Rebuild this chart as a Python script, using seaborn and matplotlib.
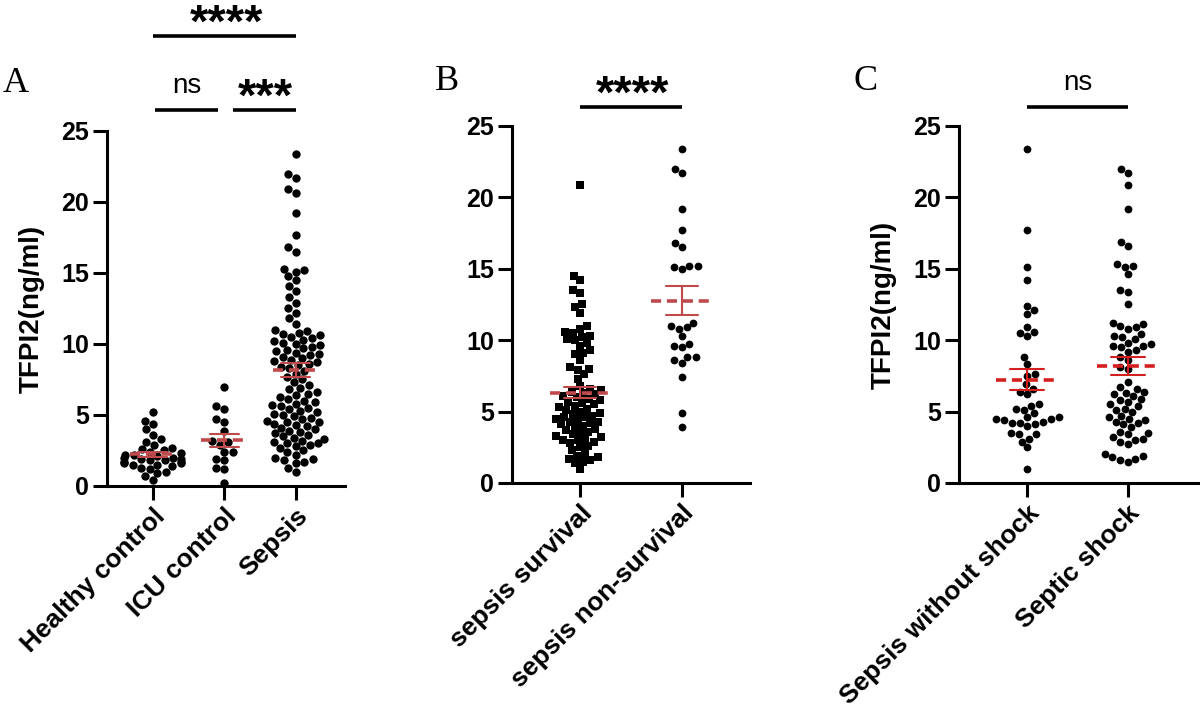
import numpy as np
import pandas as pd
import matplotlib
matplotlib.use("Agg")
import matplotlib.pyplot as plt
import seaborn as sns

# ---------------- data ----------------
cats_a = ["Healthy control", "ICU control", "Sepsis"]
healthy = [5.2, 4.6, 4.4, 4.0, 3.6, 3.3, 3.1, 2.9, 2.7, 2.6, 2.5, 2.4, 2.3, 2.2, 2.2,
           2.1, 2.0, 2.0, 1.9, 1.9, 1.8, 1.8, 1.7, 1.7, 1.6, 1.6, 1.5, 1.5, 1.4, 1.3,
           1.2, 1.0, 0.9, 0.7, 0.4]
icu = [7.0, 5.6, 5.4, 4.7, 4.5, 3.9, 3.2, 3.1, 2.9, 2.4, 2.4, 1.9, 1.8, 1.3, 1.2, 0.2]
sepsis = [23.4, 22.0, 21.7, 20.9, 20.6, 19.2, 17.7, 16.8, 16.5, 15.3, 15.2, 15.1, 14.8,
          14.5, 14.1, 13.7, 13.3, 12.9, 12.5, 12.2, 11.8, 11.4,
          11.0, 10.9, 10.8, 10.7, 10.6, 10.5, 10.4, 10.3, 10.2, 10.1, 10.0, 9.9, 9.8,
          9.7, 9.6, 9.5, 9.4, 9.3, 9.2, 9.1, 9.0, 8.9, 8.8, 8.7, 8.6, 8.5, 8.4, 8.3,
          8.1, 7.9,
          7.7, 7.5, 7.3, 7.1, 6.9, 6.8, 6.6, 6.5, 6.4, 6.3, 6.1, 6.0,
          5.9, 5.8, 5.7, 5.6, 5.5, 5.4, 5.3, 5.2, 5.1, 5.0, 4.9, 4.8, 4.7, 4.6, 4.5,
          4.5, 4.4, 4.3, 4.2, 4.1, 4.0, 3.9, 3.8, 3.7, 3.6, 3.5, 3.4, 3.3, 3.2, 3.1,
          3.0, 3.0, 2.9, 2.8, 2.7,
          2.5, 2.4, 2.2, 2.0, 1.9, 1.8, 1.7, 1.6, 1.3, 1.0]

cats_b = ["sepsis survival", "sepsis non-survival"]
survival = [20.9, 14.5, 14.2, 13.5, 13.3, 12.5, 12.3, 11.9, 11.0, 10.8, 10.6, 10.5,
            10.3, 10.2, 10.1, 10.0, 9.8, 9.6, 9.3, 9.1, 9.0, 8.6, 8.1, 8.0, 7.9, 7.6,
            7.3, 6.8, 6.6, 6.5, 6.4, 6.3, 6.2, 6.1, 6.0, 5.9, 5.8, 5.7, 5.6, 5.5, 5.4,
            5.3, 5.2, 5.1, 5.0, 4.9, 4.8, 4.7, 4.6, 4.6, 4.5, 4.4, 4.3, 4.3, 4.2, 4.1,
            4.0, 3.9, 3.8, 3.7, 3.6, 3.5, 3.4, 3.3, 3.2, 3.1, 3.0, 3.0, 2.9, 2.8, 2.6,
            2.5, 2.3, 2.0, 1.9, 1.8, 1.7, 1.6, 1.5, 1.4, 1.0]
non_survival = [23.4, 22.0, 21.7, 19.2, 17.7, 16.8, 16.5, 15.2, 15.2, 15.1, 15.0, 11.2,
                11.0, 10.9, 10.8, 10.3, 9.7, 9.6, 9.5, 8.8, 8.8, 8.6, 8.4, 7.4, 4.9, 3.9]

cats_c = ["Sepsis without shock", "Septic shock"]
no_shock = [23.4, 17.7, 15.1, 14.2, 12.4, 12.1, 11.8, 10.9, 10.6, 10.5, 10.3, 8.8, 8.3,
            7.6, 7.5, 6.9, 6.6, 6.4, 6.2, 5.5, 5.4, 5.2, 5.1, 4.9, 4.6, 4.6, 4.5, 4.5,
            4.4, 4.3, 4.2, 4.2, 4.1, 4.0, 3.5, 3.4, 3.4, 3.1, 2.9, 2.5, 1.0]
shock = [22.0, 21.7, 20.9, 19.2, 16.9, 16.6, 15.3, 15.2, 15.1, 14.6, 13.5, 13.4, 12.5,
         11.2, 11.1, 11.0, 10.9, 10.8, 10.4, 10.3, 10.2, 10.1, 9.8, 9.7, 9.6, 9.6, 9.5,
         9.3, 9.2, 8.8, 8.6, 8.1, 8.0, 7.1, 6.7, 6.6, 6.4, 6.3, 6.2, 6.1, 5.9, 5.8, 5.7,
         5.5, 5.4, 5.2, 5.1, 5.0, 4.7, 4.6, 4.5, 4.4, 4.3, 4.2, 4.1, 3.9, 3.6, 3.5, 3.4,
         3.2, 3.1, 3.0, 2.9, 2.7, 2.0, 1.9, 1.8, 1.7, 1.6, 1.5]

yticks = [0, 5, 10, 15, 20, 25]
ylabel = "TFPI2(ng/ml)"

# ---------------- style ----------------
sns.set_theme(style="ticks")
plt.rcParams["font.family"] = ["Liberation Sans", "DejaVu Sans"]
plt.rcParams["font.weight"] = "bold"
plt.rcParams["text.color"] = "black"
plt.rcParams["axes.labelcolor"] = "black"
plt.rcParams["xtick.color"] = "black"
plt.rcParams["ytick.color"] = "black"
plt.rcParams["axes.edgecolor"] = "black"

LW = 2.2
fig = plt.figure(figsize=(12, 7.15), dpi=100)

def make_df(cats, groups):
    rows = []
    for c, g in zip(cats, groups):
        for v in g:
            rows.append((c, v))
    return pd.DataFrame(rows, columns=["group", "value"])

def style_axis(ax, cats, xlim, show_ylabel):
    ax.set_xlim(*xlim)
    ax.set_ylim(0, 25)
    ax.set_yticks(yticks)
    ax.set_yticklabels([str(t) for t in yticks], fontsize=18, fontweight="bold",
                       color="black")
    ax.set_xticks(range(len(cats)))
    ax.set_xticklabels(cats, fontsize=19, fontweight="bold", rotation=45,
                       ha="right", rotation_mode="anchor", color="black")
    for s in ["top", "right"]:
        ax.spines[s].set_visible(False)
    for s in ["left", "bottom"]:
        ax.spines[s].set_linewidth(LW)
        ax.spines[s].set_color("black")
    ax.tick_params(axis="both", length=10, width=LW, color="black", pad=3)
    ax.set_xlabel("")
    if show_ylabel:
        ax.set_ylabel(ylabel, fontsize=20, fontweight="bold", labelpad=12,
                      color="black")
    else:
        ax.set_ylabel("")

def mean_sem(ax, groups, color, half, cap):
    for i, g in enumerate(groups):
        arr = np.asarray(g, dtype=float)
        m = arr.mean()
        se = arr.std(ddof=1) / np.sqrt(len(arr))
        ax.plot([i - half, i + half], [m, m], color=color, lw=LW + 0.4,
                linestyle=(0, (2.8, 1.6)), zorder=5, solid_capstyle="butt")
        ax.plot([i, i], [m - se, m + se], color=color, lw=1.5, zorder=5)
        ax.plot([i - cap, i + cap], [m + se, m + se], color=color, lw=1.5, zorder=5)
        ax.plot([i - cap, i + cap], [m - se, m - se], color=color, lw=1.5, zorder=5)

def sig(ax, x0, x1, y, text, ty, tx=None, stars=True):
    ax.plot([x0, x1], [y, y], color="black", lw=LW + 0.4, clip_on=False,
            solid_capstyle="butt")
    if tx is None:
        tx = (x0 + x1) / 2
    if stars:
        ax.text(tx, ty, text, ha="center", va="center", fontsize=34,
                fontweight="bold", clip_on=False, color="black")
    else:
        ax.text(tx, ty, text, ha="center", va="center", fontsize=20,
                fontweight="normal", clip_on=False, color="black")

red_ab = "#bf4a4c"
red_c = "#d41f1f"

# ---------------- panel A ----------------
axA = fig.add_axes([0.0892, 0.3203, 0.1983, 0.4965])
dfA = make_df(cats_a, [healthy, icu, sepsis])
sns.swarmplot(data=dfA, x="group", y="value", order=cats_a, color="black",
              size=6.0, ax=axA, zorder=3)
style_axis(axA, cats_a, (-0.64, 2.69), True)
mean_sem(axA, [healthy, icu, sepsis], red_ab, 0.32, 0.2)
sig(axA, 0.03, 0.91, 26.5, "ns", 28.2, stars=False)
sig(axA, 1.12, 2.0, 26.5, "***", 27.3, tx=1.58)
sig(axA, 0.01, 2.0, 31.7, "****", 32.5, tx=1.03)

# ---------------- panel B ----------------
axB = fig.add_axes([0.4267, 0.3245, 0.1983, 0.4993])
dfB1 = make_df([cats_b[0]], [survival])
dfB2 = make_df([cats_b[1]], [non_survival])
sns.swarmplot(data=dfB1, x="group", y="value", order=cats_b, color="black",
              size=5.4, marker="s", ax=axB, zorder=3)
sns.swarmplot(data=dfB2, x="group", y="value", order=cats_b, color="black",
              size=5.6, marker="o", ax=axB, zorder=3)
style_axis(axB, cats_b, (-0.67, 1.67), False)
mean_sem(axB, [survival, non_survival], red_ab, 0.3, 0.16)
sig(axB, 0.0, 1.0, 26.3, "****", 27.1, tx=0.52)

# ---------------- panel C ----------------
axC = fig.add_axes([0.7992, 0.3245, 0.2000, 0.4993])
dfC = make_df(cats_c, [no_shock, shock])
sns.swarmplot(data=dfC, x="group", y="value", order=cats_c, color="black",
              size=5.6, ax=axC, zorder=3)
style_axis(axC, cats_c, (-0.68, 1.71), True)
mean_sem(axC, [no_shock, shock], red_c, 0.31, 0.17)
sig(axC, 0.0, 1.0, 26.3, "ns", 28.0, stars=False)

# ---------------- panel letters ----------------
for x, y, t in [(0.0025, 0.8713, "A"), (0.3625, 0.8741, "B"), (0.711, 0.8741, "C")]:
    fig.text(x, y, t, fontsize=26, fontweight="normal", va="baseline",
             family=["Liberation Serif", "DejaVu Serif"], color="black")

fig.savefig("out.png", dpi=100)
